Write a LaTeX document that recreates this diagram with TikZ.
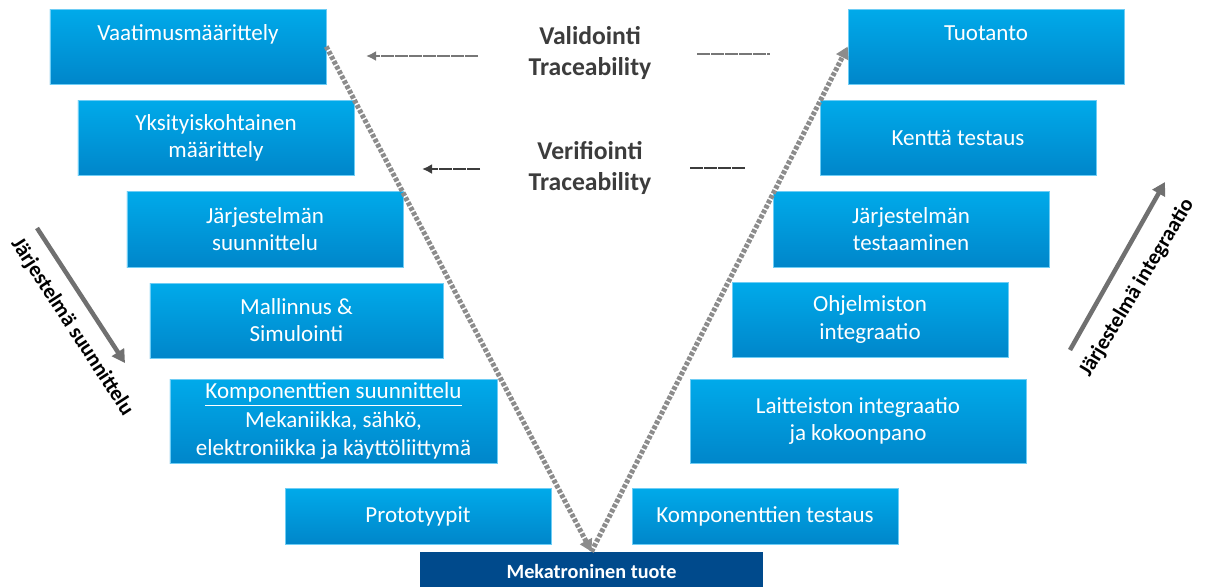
\documentclass[tikz,border=0pt]{standalone}
\usepackage{fontspec}
\setmainfont{Carlito}
\usetikzlibrary{arrows.meta}
\definecolor{boxtop}{RGB}{0,170,234}
\definecolor{boxbot}{RGB}{0,134,202}
\definecolor{boxedge}{RGB}{110,205,245}
\definecolor{mekblue}{RGB}{0,74,140}
\definecolor{vgray}{RGB}{140,140,140}
\definecolor{lblgray}{RGB}{60,60,60}
\begin{document}
\begin{tikzpicture}[x=0.2mm, y=-0.2mm]
      \tikzset{phase/.style={draw=boxedge, line width=0.3pt, top color=boxtop, bottom color=boxbot, text=white, align=center, inner sep=0pt, font=\fontsize{13.1}{15.4}\selectfont},
               trace/.style={text=lblgray, align=center, font=\bfseries\fontsize{14.6}{18}\selectfont},
               flow/.style={line width=0.9mm, draw=vgray!80!black, -{Triangle[length=2.6mm, width=2.8mm]}},
               vline/.style={line width=1mm, draw=vgray, dash pattern=on 0.75mm off 0.35mm},
               side/.style={text=black, font=\bfseries\fontsize{12.2}{14}\selectfont}}
      \useasboundingbox (0,0) rectangle (1205,586);
%% Left side
      	\node[phase, minimum width=55.2mm, minimum height=15mm] (vaat) at (188,46.5) {Vaatimusmäärittely\\\mbox{}};
      	\node[phase, minimum width=55.2mm, minimum height=15mm] (yksi) at (216,137.5) {Yksityiskohtainen\\määrittely};
      	\node[phase, minimum width=55.2mm, minimum height=15.2mm] (jsuun) at (265,229) {Järjestelmän\\suunnittelu};
      	\node[phase, minimum width=58.6mm, minimum height=15mm] (mall) at (296.5,320.5) {Mallinnus \&\\Simulointi};
      	\node[phase, minimum width=65.4mm, minimum height=16.8mm, font=\fontsize{13.1}{16}\selectfont] (komp) at (333.5,421) {\underline{Komponenttien suunnittelu}\\Mekaniikka, sähkö,\\elektroniikka ja käyttöliittymä};
      	\node[phase, minimum width=53.2mm, minimum height=11.2mm] (prot) at (418,516) {Prototyypit};
%% Right side
      	\node[phase, minimum width=55.2mm, minimum height=15mm] (tuot) at (986,46.5) {Tuotanto\\\mbox{}};
      	\node[phase, minimum width=55.2mm, minimum height=15mm] (kent) at (958,137.5) {Kenttä testaus};
      	\node[phase, minimum width=55.2mm, minimum height=15.2mm] (jtest) at (911,229) {Järjestelmän\\testaaminen};
      	\node[phase, minimum width=55.2mm, minimum height=15mm] (ohj) at (870,319.5) {Ohjelmiston\\integraatio};
      	\node[phase, minimum width=67.2mm, minimum height=16.8mm] (lait) at (858,421) {Laitteiston integraatio\\ja kokoonpano};
      	\node[phase, minimum width=53.2mm, minimum height=11.2mm] (ktest) at (765,516) {Komponenttien testaus};
%% Product
      	\node[fill=mekblue, text=white, inner sep=0pt, minimum width=68.6mm, minimum height=7.6mm, font=\bfseries\fontsize{11.5}{13}\selectfont] (mek) at (591.5,571) {Mekatroninen tuote};
%% Traceability labels
      	\node[trace] (valid) at (590,53) {Validointi\\Traceability};
      	\node[trace] (verif) at (590,168) {Verifiointi\\Traceability};
      	\coordinate (vl1) at (478,56);  \coordinate (vl2) at (366,56);
      	\coordinate (vr1) at (697,54);  \coordinate (vr2) at (770,54);
      	\coordinate (fl1) at (480,169); \coordinate (fl2) at (422,169);
      	\coordinate (fr1) at (690,168); \coordinate (fr2) at (745,168);
%Edges
		\draw[vline, -{Triangle[length=2.4mm, width=2.6mm]}] (vaat.east) -- (mek.north);
		\draw[vline, -{Triangle[length=2.4mm, width=2.6mm]}] (mek.north) -- (tuot.west);
		\draw[line width=0.55mm, draw=vgray!85!black, dash pattern=on 2.6mm off 0.2mm, -{Latex[length=2mm, width=2mm]}] (vl1) -- (vl2);
		\draw[line width=0.55mm, draw=vgray!85!black, dash pattern=on 2.6mm off 0.2mm] (vr1) -- (vr2);
		\draw[line width=0.55mm, draw=lblgray, dash pattern=on 2.6mm off 0.2mm, -{Latex[length=2mm, width=2mm]}] (fl1) -- (fl2);
		\draw[line width=0.55mm, draw=lblgray, dash pattern=on 2.6mm off 0.2mm] (fr1) -- (fr2);
%% Side arrows
      	\coordinate (sl1) at (37,228);   \coordinate (sl2) at (125,363);
      	\coordinate (il1) at (1070,350); \coordinate (il2) at (1165,182);
		\draw[flow] (sl1) -- (sl2);
		\draw[flow] (il1) -- (il2);
      	\node[side, rotate=-57] (suun) at (72,327) {Järjestelmä suunnittelu};
      	\node[side, rotate=59] (integ) at (1137,288) {Järjestelmä integraatio};
	\end{tikzpicture}
\end{document}
